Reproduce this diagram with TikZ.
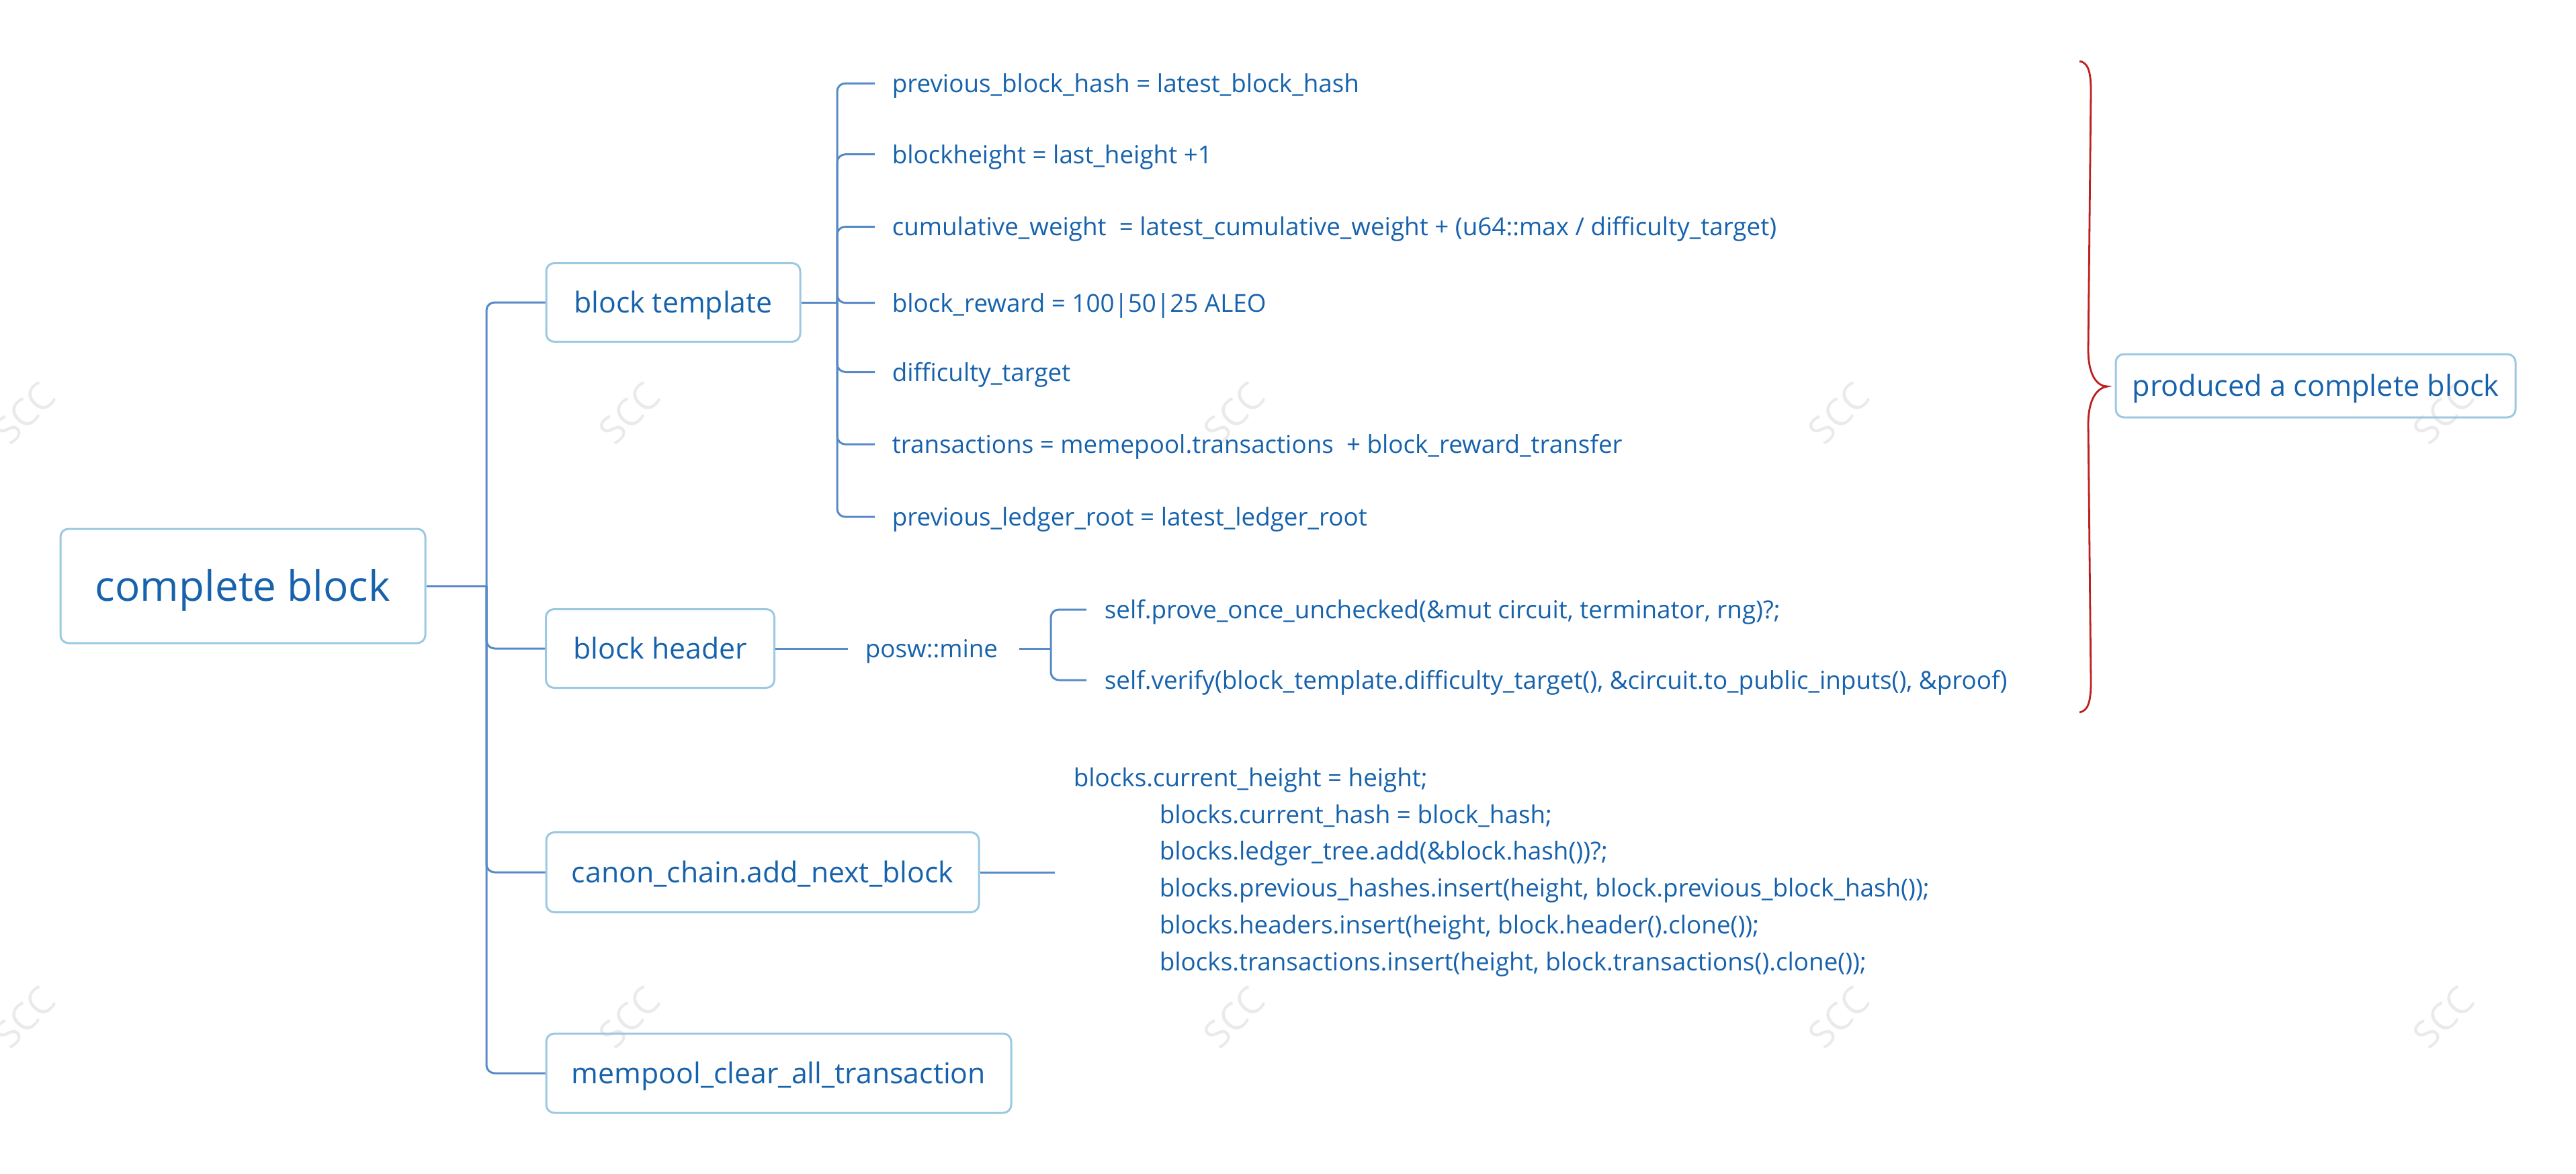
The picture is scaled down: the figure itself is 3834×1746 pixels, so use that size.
\documentclass[tikz,border=0pt]{standalone}
\usepackage{fontspec}
\setmainfont{Open Sans}
\usetikzlibrary{calc}
\definecolor{txtblue}{RGB}{22,98,172}
\definecolor{boxblue}{RGB}{156,200,226}
\definecolor{lineblue}{RGB}{88,138,198}
\definecolor{bracered}{RGB}{188,32,32}
\definecolor{wmgray}{RGB}{234,234,234}
\begin{document}
\begin{tikzpicture}[x=0.25pt,y=-0.25pt,
  topic/.style={draw=boxblue, line width=0.75pt, rounded corners=3pt, text=txtblue, inner sep=0pt,
    font=\fontsize{10.7}{13}\selectfont, text height=7.9pt, text depth=0pt, minimum height=29.25pt},
  leaf/.style={text=txtblue, inner sep=0pt, anchor=west, font=\fontsize{9.2}{11}\selectfont,
    text height=6.8pt, text depth=0pt},
  codeblk/.style={text=txtblue, inner sep=0pt, anchor=north west, align=left,
    font=\fontsize{9.2}{13.7}\selectfont},
  conn/.style={draw=lineblue, line width=0.75pt, rounded corners=3pt},
  wmark/.style={text=wmgray, rotate=45, inner sep=0pt, font=\fontsize{14}{14}\selectfont}
]
\useasboundingbox (0,0) rectangle (3834,1746);

% watermarks
\foreach \wx in {37,937,1837,2737,3637}{
  \node[wmark] (wa\wx) at (\wx,615) {SCC};
  \node[wmark] (wb\wx) at (\wx,1514) {SCC};
}

% main topics
\node[topic, minimum width=135.75pt, minimum height=42.5pt,
      font=\fontsize{15.5}{18}\selectfont, text height=11.4pt] (root) at (361.5,872) {complete block};
\node[topic, minimum width=94.5pt]  (tpl)   at (1002,450)   {block template};
\node[topic, minimum width=85pt]    (hdr)   at (982.5,965)  {block header};
\node[topic, minimum width=161pt, minimum height=29.75pt] (canon) at (1135,1298) {canon\_chain.add\_next\_block};
\node[topic, minimum width=173pt, minimum height=29.5pt]  (mem)   at (1159,1597) {mempool\_clear\_all\_transaction};

\coordinate (rj) at (724,872);
\draw[conn] (root.east) -- (rj);
\foreach \n in {tpl,hdr,canon,mem}{\draw[conn] (rj) |- (\n.west);}

% block template leaves
\node[leaf] (t1) at (1327,124)   {previous\_block\_hash = latest\_block\_hash};
\node[leaf] (t2) at (1327,229.7) {blockheight = last\_height +1};
\node[leaf] (t3) at (1327,337.3) {cumulative\_weight\ \ = latest\_cumulative\_weight + (u64::max / difficulty\_target)};
\node[leaf] (t4) at (1327,450.7) {block\_reward = 100|50|25 ALEO};
\node[leaf] (t5) at (1327,553.5) {difficulty\_target};
\node[leaf] (t6) at (1327,661.1) {transactions = memepool.transactions\ \ + block\_reward\_transfer};
\node[leaf] (t7) at (1327,769.2) {previous\_ledger\_root = latest\_ledger\_root};

\coordinate (tj) at (1246,450);
\draw[conn] (tpl.east) -- (tj);
\foreach \n in {t1,t2,t3,t4,t5,t6,t7}{\draw[conn] (tj) |- ($(\n.west)+(-25,0)$);}

% block header
\node[leaf] (posw) at (1287,965) {posw::mine};
\node[leaf] (p1) at (1643,907)  {self.prove\_once\_unchecked(\&mut circuit, terminator, rng)?;};
\node[leaf] (p2) at (1643,1012) {self.verify(block\_template.difficulty\_target(), \&circuit.to\_public\_inputs(), \&proof)};
\draw[conn] (hdr.east) -- ($(posw.west)+(-25,0)$);
\coordinate (pj) at (1564,965);
\draw[conn] ($(posw.east)+(31,0)$) -- (pj);
\foreach \n in {p1,p2}{\draw[conn] (pj) |- ($(\n.west)+(-26,0)$);}

% canon chain code
\node[codeblk] (code) at (1597,1141.6) {blocks.current\_height = height;\\
\hspace*{32pt}blocks.current\_hash = block\_hash;\\
\hspace*{32pt}blocks.ledger\_tree.add(\&block.hash())?;\\
\hspace*{32pt}blocks.previous\_hashes.insert(height, block.previous\_block\_hash());\\
\hspace*{32pt}blocks.headers.insert(height, block.header().clone());\\
\hspace*{32pt}blocks.transactions.insert(height, block.transactions().clone());};
\coordinate (codein) at ($(code.north west)+(-27,0)$);
\draw[conn] (canon.east) -- (canon.east -| codein);

% produced a complete block
\node[topic, minimum width=148.75pt, minimum height=23.5pt, font=\fontsize{10.8}{13}\selectfont]
  (prod) at (3446.5,574) {produced a complete block};
\coordinate (bt) at ($(prod.west)+(-11,1)$);
\draw[bracered, line width=0.7pt]
  (3095,91) .. controls (3107,93) and (3112,105) .. (3112,135)
  -- (3108,520)
  .. controls (3108,560) and (3122,575) .. (bt)
  .. controls (3122,577) and (3108,592) .. (3108,632)
  -- (3112,1015)
  .. controls (3112,1046) and (3107,1058) .. (3095,1060);
\end{tikzpicture}
\end{document}
